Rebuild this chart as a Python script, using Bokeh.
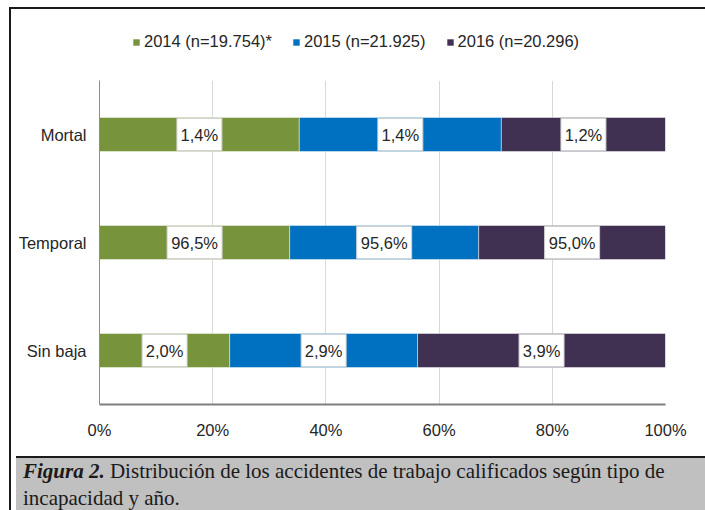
from bokeh.plotting import figure
from bokeh.layouts import column
from bokeh.models import (ColumnDataSource, Legend, LegendItem, FixedTicker, Div)
from bokeh.core.properties import value
from bokeh.embed import file_html
from bokeh.resources import INLINE

# ---- data ----
categories = ["Mortal", "Temporal", "Sin baja"]
years = ["2014 (n=19.754)*", "2015 (n=21.925)", "2016 (n=20.296)"]
share_2014 = [35.3, 33.6, 23.0]
share_2015 = [35.7, 33.4, 33.2]
share_2016 = [29.0, 33.0, 43.8]
label_2014 = ["1,4%", "96,5%", "2,0%"]
label_2015 = ["1,4%", "95,6%", "2,9%"]
label_2016 = ["1,2%", "95,0%", "3,9%"]
x_ticks = [0, 20, 40, 60, 80, 100]
x_tick_labels = ["0%", "20%", "40%", "60%", "80%", "100%"]
caption_bold = "Figura 2."
caption_line1 = "Distribución de los accidentes de trabajo calificados según tipo de"
caption_line2 = "incapacidad y año."

colors = ["#77933c", "#0070c0", "#403152"]
FONT = "Liberation Sans"
FS = "16.5px"
SERIF = "Liberation Serif"
W = 690

# ---------- main chart ----------
p = figure(width=W, height=371, output_backend="svg", toolbar_location=None,
           y_range=list(reversed(categories)), x_range=(0, 100),
           min_border_left=88, min_border_right=36, min_border_top=0,
           min_border_bottom=47)
p.outline_line_color = None
p.background_fill_color = "white"
p.border_fill_color = "white"

shares = [share_2014, share_2015, share_2016]
labels = [label_2014, label_2015, label_2016]
left = [0.0] * len(categories)
sources = []
for i in range(3):
    right = [l + s for l, s in zip(left, shares[i])]
    mid = [(l + r) / 2 for l, r in zip(left, right)]
    boxw = [10 * len(t) + 5 for t in labels[i]]
    src = ColumnDataSource(dict(cat=categories, left=left, right=right, mid=mid,
                                lab=labels[i], boxw=boxw))
    sources.append(src)
    p.hbar(y="cat", left="left", right="right", height=0.315, source=src,
           fill_color=colors[i], line_color="white", line_alpha=0.45, line_width=1)
    p.rect(x="mid", y="cat", width="boxw", width_units="screen", height=0.30,
           source=src, fill_color="white", line_color="#d0d0d0", line_width=1)
    p.text(x="mid", y="cat", text="lab", source=src, text_align="center",
           text_baseline="middle", text_font=value(FONT), text_font_size=FS,
           text_color="#262626")
    left = right

p.xaxis.ticker = FixedTicker(ticks=x_ticks)
p.xaxis.major_label_overrides = {t: s for t, s in zip(x_ticks, x_tick_labels)}
p.xaxis.major_tick_line_color = None
p.xaxis.major_tick_out = 0
p.xaxis.minor_tick_line_color = None
p.xaxis.axis_line_color = "#7f7f7f"
p.xaxis.axis_line_width = 2
p.xaxis.major_label_standoff = 16
p.xaxis.major_label_text_font = FONT
p.xaxis.major_label_text_font_size = FS
p.xaxis.major_label_text_color = "#262626"

p.yaxis.major_tick_line_color = None
p.yaxis.major_tick_out = 0
p.yaxis.axis_line_color = "#8c8c8c"
p.yaxis.axis_line_width = 1
p.yaxis.major_label_standoff = 13
p.yaxis.major_label_text_font = FONT
p.yaxis.major_label_text_font_size = FS
p.yaxis.major_label_text_color = "#262626"

p.ygrid.grid_line_color = None
p.xgrid.grid_line_color = "#d9d9d9"
p.xgrid.ticker = FixedTicker(ticks=x_ticks)

# ---------- legend strip ----------
top = figure(width=W, height=71, output_backend="svg", toolbar_location=None,
             x_range=(0, 100), y_range=list(reversed(categories)),
             x_axis_type=None, y_axis_type=None, min_border=0)
top.outline_line_color = None
top.xgrid.visible = False
top.ygrid.visible = False
legend_renderers = []
for i in range(3):
    legend_renderers.append(top.hbar(y="cat", left="left", right="right", height=0,
                                     source=sources[i], fill_color=colors[i],
                                     line_color=None))
legend = Legend(items=[LegendItem(label=years[i], renderers=[legend_renderers[i]])
                       for i in range(3)],
                orientation="horizontal", location=(33, 29))
legend.label_text_font = FONT
legend.label_text_font_size = FS
legend.label_text_color = "#262626"
legend.glyph_width = 8
legend.glyph_height = 8
legend.label_height = 8
legend.label_standoff = 4
legend.spacing = 20
legend.padding = 0
legend.margin = 0
legend.border_line_color = None
legend.background_fill_alpha = 0
top.add_layout(legend)

# ---------- caption ----------
cap_html = (
    '<div style="font-family: \'%s\', serif; font-size: 21px; line-height: 27px; '
    'color: #1a1a1a; white-space: nowrap; padding: 0 0 0 7px;">'
    '<b><i>%s</i></b> %s<br>%s</div>' % (SERIF, caption_bold, caption_line1, caption_line2)
)
cap = Div(text=cap_html, width=W, height=58,
          styles={"background-color": "#c0c0c0", "border-top": "2.5px solid #1a1a1a"})

layout = column(top, p, cap, spacing=0,
                styles={"border": "2.5px solid #1a1a1a", "margin-left": "9px",
                        "margin-top": "7px"})

open("out.html", "w").write(file_html(layout, INLINE))
